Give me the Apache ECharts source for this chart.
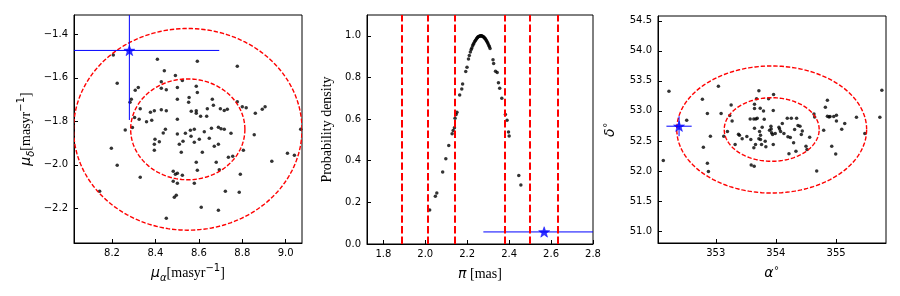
<!DOCTYPE html>
<html><head><meta charset="utf-8">
<script src="https://cdn.jsdelivr.net/npm/echarts@6/dist/echarts.min.js"></script>
<style>html,body{margin:0;padding:0;background:#fff}#c{width:900px;height:296px}</style>
</head><body><div id="c"></div>
<script>
// ---------- Panel 1: proper motion ----------
const pmPoints = [
[8.206,-1.495],[8.409,-1.515],[8.593,-1.524],[8.777,-1.547],[8.224,-1.625],[8.441,-1.567],[8.492,-1.589],[8.427,-1.618],
[8.524,-1.612],[8.427,-1.648],[8.450,-1.655],[8.501,-1.644],[8.588,-1.639],[8.593,-1.667],[8.321,-1.644],[8.307,-1.657],
[8.289,-1.699],[8.283,-1.713],[8.330,-1.742],[8.304,-1.783],[8.325,-1.791],[8.359,-1.802],[8.383,-1.795],[8.377,-1.759],
[8.395,-1.751],[8.427,-1.747],[8.450,-1.751],[8.501,-1.699],[8.555,-1.691],[8.553,-1.713],[8.565,-1.754],[8.588,-1.751],
[8.588,-1.763],[8.608,-1.777],[8.636,-1.777],[8.639,-1.742],[8.662,-1.699],[8.667,-1.726],[8.699,-1.742],[8.717,-1.750],
[8.731,-1.745],[8.777,-1.710],[8.800,-1.733],[8.818,-1.738],[8.860,-1.763],[8.892,-1.745],[8.905,-1.733],[8.501,-1.791],
[8.294,-1.829],[8.261,-1.840],[8.446,-1.837],[8.436,-1.854],[8.501,-1.858],[8.538,-1.855],[8.561,-1.841],[8.579,-1.837],
[8.625,-1.848],[8.658,-1.832],[8.690,-1.828],[8.702,-1.834],[8.717,-1.837],[8.748,-1.855],[9.069,-1.837],[8.855,-1.862],
[8.398,-1.883],[8.395,-1.906],[8.418,-1.894],[8.395,-1.933],[8.564,-1.869],[8.527,-1.892],[8.510,-1.906],[8.579,-1.897],
[8.602,-1.883],[8.648,-1.878],[8.671,-1.915],[8.690,-1.906],[8.519,-1.943],[8.616,-1.943],[8.805,-1.933],[8.736,-1.966],
[8.756,-1.961],[8.588,-1.989],[8.680,-1.989],[8.197,-1.924],[8.224,-2.002],[8.593,-2.025],[8.694,-2.023],[8.482,-2.030],
[8.492,-2.044],[8.501,-2.039],[8.524,-2.048],[8.330,-2.057],[8.482,-2.076],[8.501,-2.085],[8.579,-2.085],[8.791,-2.044],
[8.936,-1.984],[9.008,-1.947],[9.040,-1.956],[8.143,-2.122],[8.722,-2.122],[8.786,-2.126],[8.487,-2.149],[8.496,-2.140],
[8.611,-2.195],[8.690,-2.209],[8.450,-2.246]
];
const pmStar = [8.280, -1.474];
const pmStarErr = [0.414, 0.32];
const pmCenter = [8.549, -1.837];
const pmSigma = [0.263, 0.232];
const pmXRange = [8.025, 9.075];
const pmYRange = [-2.36, -1.311];
const pmXTicks = [8.2, 8.4, 8.6, 8.8, 9.0];
const pmYTicks = [-2.2, -2.0, -1.8, -1.6, -1.4];

// ---------- Panel 2: parallax ----------
const plxPoints = [
[2.021,0.163],[2.048,0.229],[2.055,0.245],[2.083,0.346],[2.098,0.409],[2.112,0.473],[2.128,0.529],[2.133,0.545],
[2.139,0.558],[2.142,0.604],[2.147,0.622],[2.151,0.633],[2.164,0.716],[2.174,0.745],[2.178,0.769],[2.193,0.829],
[2.199,0.849],[2.206,0.889],[2.210,0.905],
[2.215,0.922],[2.219,0.934],[2.222,0.942],[2.226,0.952],[2.229,0.959],[2.232,0.965],[2.236,0.973],[2.239,0.978],
[2.243,0.984],[2.246,0.988],[2.249,0.992],[2.252,0.995],[2.255,0.997],[2.258,0.998],[2.261,0.999],[2.264,1.000],
[2.267,1.000],[2.270,0.999],[2.273,0.998],[2.276,0.996],[2.279,0.994],[2.282,0.991],[2.285,0.987],[2.288,0.983],
[2.291,0.978],[2.294,0.973],[2.297,0.967],[2.300,0.961],[2.303,0.954],[2.306,0.947],[2.309,0.939],
[2.323,0.885],[2.326,0.867],[2.335,0.830],[2.343,0.824],[2.349,0.774],[2.355,0.748],[2.365,0.700],[2.382,0.622],
[2.390,0.595],[2.397,0.538],[2.400,0.519],[2.446,0.329],[2.456,0.284]
];
const plxStar = [2.567, 0.058];
const plxStarErr = [0.29, 0];
const plxLines = [1.889, 2.013, 2.137, 2.381, 2.505, 2.629];
const plxXRange = [1.722, 2.8];
const plxYRange = [0, 1.1];
const plxXTicks = [1.8, 2.0, 2.2, 2.4, 2.6, 2.8];
const plxYTicks = [0.0, 0.2, 0.4, 0.6, 0.8, 1.0];

// ---------- Panel 3: position ----------
const posPoints = [
[352.128,52.175],[352.222,53.326],[352.517,52.844],[352.778,53.193],[352.861,52.955],[352.794,52.396],[352.911,52.579],
[352.861,52.130],[352.878,51.992],[353.044,53.409],[353.089,52.955],[353.133,52.579],[353.194,52.656],[353.256,53.099],
[353.272,52.833],[353.233,52.922],[353.322,52.440],[353.378,52.612],[353.394,52.595],[353.439,52.534],[353.517,52.573],
[353.572,52.866],[353.583,52.523],[353.589,52.097],[353.633,52.866],[353.644,52.712],[353.633,52.385],[353.639,52.080],
[353.644,53.110],[353.644,53.038],[353.667,52.866],[353.661,52.440],[353.678,53.204],[353.689,52.877],[353.717,53.337],
[353.717,52.534],[353.728,52.656],[353.739,53.044],[353.744,52.595],[353.744,52.523],[353.772,52.728],[353.761,52.440],
[353.794,53.000],[353.806,52.861],[353.822,52.496],[353.833,52.401],[353.878,53.204],[353.894,52.678],[353.917,52.745],
[353.922,52.700],[353.928,52.634],[353.956,53.006],[353.956,52.440],[353.944,52.606],[353.961,53.271],[353.989,52.623],
[354.050,52.728],[354.061,52.700],[354.078,52.656],[354.106,52.789],[354.133,52.623],[354.189,52.877],[354.200,52.568],
[354.217,52.286],[354.239,52.556],[354.256,52.877],[354.294,52.468],[354.311,52.689],[354.333,52.329],[354.344,52.877],
[354.367,52.756],[354.400,52.745],[354.422,52.606],[354.439,52.667],[354.500,52.413],[354.517,52.357],[354.561,52.562],
[354.633,52.950],[354.644,52.900],[354.678,51.997],[354.794,52.678],[354.822,53.060],[354.856,53.177],[354.856,52.911],
[354.883,52.900],[354.900,52.905],[354.928,52.413],[354.961,52.905],[355.006,52.927],[355.006,52.833],[354.994,52.280],
[355.094,52.695],[355.144,52.789],[355.339,52.894],[355.478,52.623],[355.728,52.894],[355.761,53.343]
];
const posStar = [352.39, 52.745];
const posStarErr = [0.21, 0.166];
const posCenter = [353.93, 52.69];
const posSigma = [0.789, 0.529];
const posXRange = [352.04, 355.83];
const posYRange = [50.8, 54.58];
const posXTicks = [353, 354, 355];
const posYTicks = [51.0, 51.5, 52.0, 52.5, 53.0, 53.5, 54.0, 54.5];

// ---------- rendering ----------
const STAR = 'path://M0,-10 L2.35,-3.24 L9.51,-3.09 L3.8,1.24 L5.88,8.09 L0,4 L-5.88,8.09 L-3.8,1.24 L-9.51,-3.09 L-2.35,-3.24 Z';
const SERIF = 'Liberation Serif';
const SANS = 'DejaVu Sans';
const fmt = d => v => (v < 0 ? '\u2212' : '') + Math.abs(v).toFixed(d);

const richStyles = {
  m: {fontFamily: SANS, fontStyle: 'italic', fontSize: 14, lineHeight: 20, color: '#000'},
  sub: {fontFamily: SANS, fontStyle: 'italic', fontSize: 10, lineHeight: 11, verticalAlign: 'bottom', color: '#000'},
  r: {fontFamily: SERIF, fontSize: 14, lineHeight: 20, color: '#000'},
  supm: {fontFamily: SANS, fontSize: 10, lineHeight: 11, verticalAlign: 'top', color: '#000'}
};

function axis(gi, range, ticks, d, name, gap, isY) {
  return {
    type: 'value', gridIndex: gi, min: range[0], max: range[1],
    name: name, nameLocation: 'middle', nameGap: gap,
    nameTextStyle: {rich: richStyles, fontFamily: SERIF, fontSize: 14, color: '#000'},
    axisLine: {show: true, onZero: false, lineStyle: {color: '#000', width: 1}},
    axisTick: {show: true, inside: true, length: 4, customValues: ticks, lineStyle: {color: '#000', width: 1}},
    axisLabel: {show: true, customValues: ticks, formatter: fmt(d), color: '#000', fontFamily: SANS, fontSize: 10, margin: isY ? 6 : 5},
    splitLine: {show: false}
  };
}

function clampBox(p, cs) {
  return [Math.min(Math.max(p[0], cs.x), cs.x + cs.width), Math.min(Math.max(p[1], cs.y), cs.y + cs.height)];
}

function ellipseSeries(gi, center, sigma) {
  return {
    type: 'custom', xAxisIndex: gi, yAxisIndex: gi, clip: true, silent: true, z: 3,
    data: [[center[0], center[1], sigma[0], sigma[1]], [center[0], center[1], 2 * sigma[0], 2 * sigma[1]]],
    renderItem: function (params, api) {
      const cx = api.value(0), cy = api.value(1), sx = api.value(2), sy = api.value(3);
      const pts = [];
      for (let i = 0; i <= 180; i++) {
        const t = i / 180 * 2 * Math.PI;
        pts.push(api.coord([cx + sx * Math.cos(t), cy + sy * Math.sin(t)]));
      }
      return {type: 'polyline', shape: {points: pts}, style: {stroke: '#ff0000', fill: null, lineWidth: 1.4, lineDash: [4.4, 1.9]}};
    }
  };
}

function errSeries(gi, star, err) {
  return {
    type: 'custom', xAxisIndex: gi, yAxisIndex: gi, clip: true, silent: true, z: 4,
    data: [[star[0], star[1], err[0], err[1]]],
    renderItem: function (params, api) {
      const cs = params.coordSys;
      const x = api.value(0), y = api.value(1), ex = api.value(2), ey = api.value(3);
      const ch = [];
      if (ex > 0) {
        const a = clampBox(api.coord([x - ex, y]), cs), b = clampBox(api.coord([x + ex, y]), cs);
        ch.push({type: 'line', shape: {x1: a[0], y1: a[1], x2: b[0], y2: b[1]}, style: {stroke: '#0000ff', lineWidth: 1}});
      }
      if (ey > 0) {
        const a = clampBox(api.coord([x, y - ey]), cs), b = clampBox(api.coord([x, y + ey]), cs);
        ch.push({type: 'line', shape: {x1: a[0], y1: a[1], x2: b[0], y2: b[1]}, style: {stroke: '#0000ff', lineWidth: 1}});
      }
      return {type: 'group', children: ch};
    }
  };
}

function dots(gi, pts) {
  return {type: 'scatter', xAxisIndex: gi, yAxisIndex: gi, data: pts, symbol: 'circle', symbolSize: 3.5,
    itemStyle: {color: '#000'}, silent: true, z: 2, animation: false};
}
function star(gi, p) {
  return {type: 'scatter', xAxisIndex: gi, yAxisIndex: gi, data: [p], symbol: STAR, symbolSize: 11, symbolKeepAspect: true,
    itemStyle: {color: '#0000ff', borderColor: '#0000ff', borderWidth: 0.6}, silent: true, z: 5};
}

const chart = echarts.init(document.getElementById('c'), null, {renderer: 'canvas'});
const option = {
  animation: false,
  backgroundColor: '#fff',
  grid: [
    {left: 74, top: 15, width: 228, height: 228, show: true, borderColor: '#000', borderWidth: 1, backgroundColor: 'transparent'},
    {left: 367, top: 15, width: 226, height: 229, show: true, borderColor: '#000', borderWidth: 1, backgroundColor: 'transparent'},
    {left: 658, top: 16, width: 228, height: 227, show: true, borderColor: '#000', borderWidth: 1, backgroundColor: 'transparent'}
  ],
  xAxis: [
    axis(0, pmXRange, pmXTicks, 1, '{m|μ}{sub|α}{r|[masyr}{supm|\u22121}{r|]}', 20, false),
    axis(1, plxXRange, plxXTicks, 1, '{m|π}{r| [mas]}', 20, false),
    axis(2, posXRange, posXTicks, 0, '{m|α}{supm|∘}', 20, false)
  ],
  yAxis: [
    axis(0, pmYRange, pmYTicks, 1, '{m|μ}{sub|δ}{r|[masyr}{supm|\u22121}{r|]}', 38, true),
    axis(1, plxYRange, plxYTicks, 1, '{r|Probability density}', 30, true),
    axis(2, posYRange, posYTicks, 1, '{m|δ}{supm|∘}', 38, true)
  ],
  series: [
    dots(0, pmPoints), ellipseSeries(0, pmCenter, pmSigma), errSeries(0, pmStar, pmStarErr), star(0, pmStar),
    Object.assign(dots(1, plxPoints), {
      markLine: {symbol: 'none', silent: true, animation: false, label: {show: false},
        lineStyle: {color: '#ff0000', type: [7.4, 3.2], width: 2},
        data: plxLines.map(v => ({xAxis: v}))}
    }),
    errSeries(1, plxStar, plxStarErr), star(1, plxStar),
    dots(2, posPoints), ellipseSeries(2, posCenter, posSigma), errSeries(2, posStar, posStarErr), star(2, posStar)
  ]
};
chart.setOption(option);
</script>
</body></html>
